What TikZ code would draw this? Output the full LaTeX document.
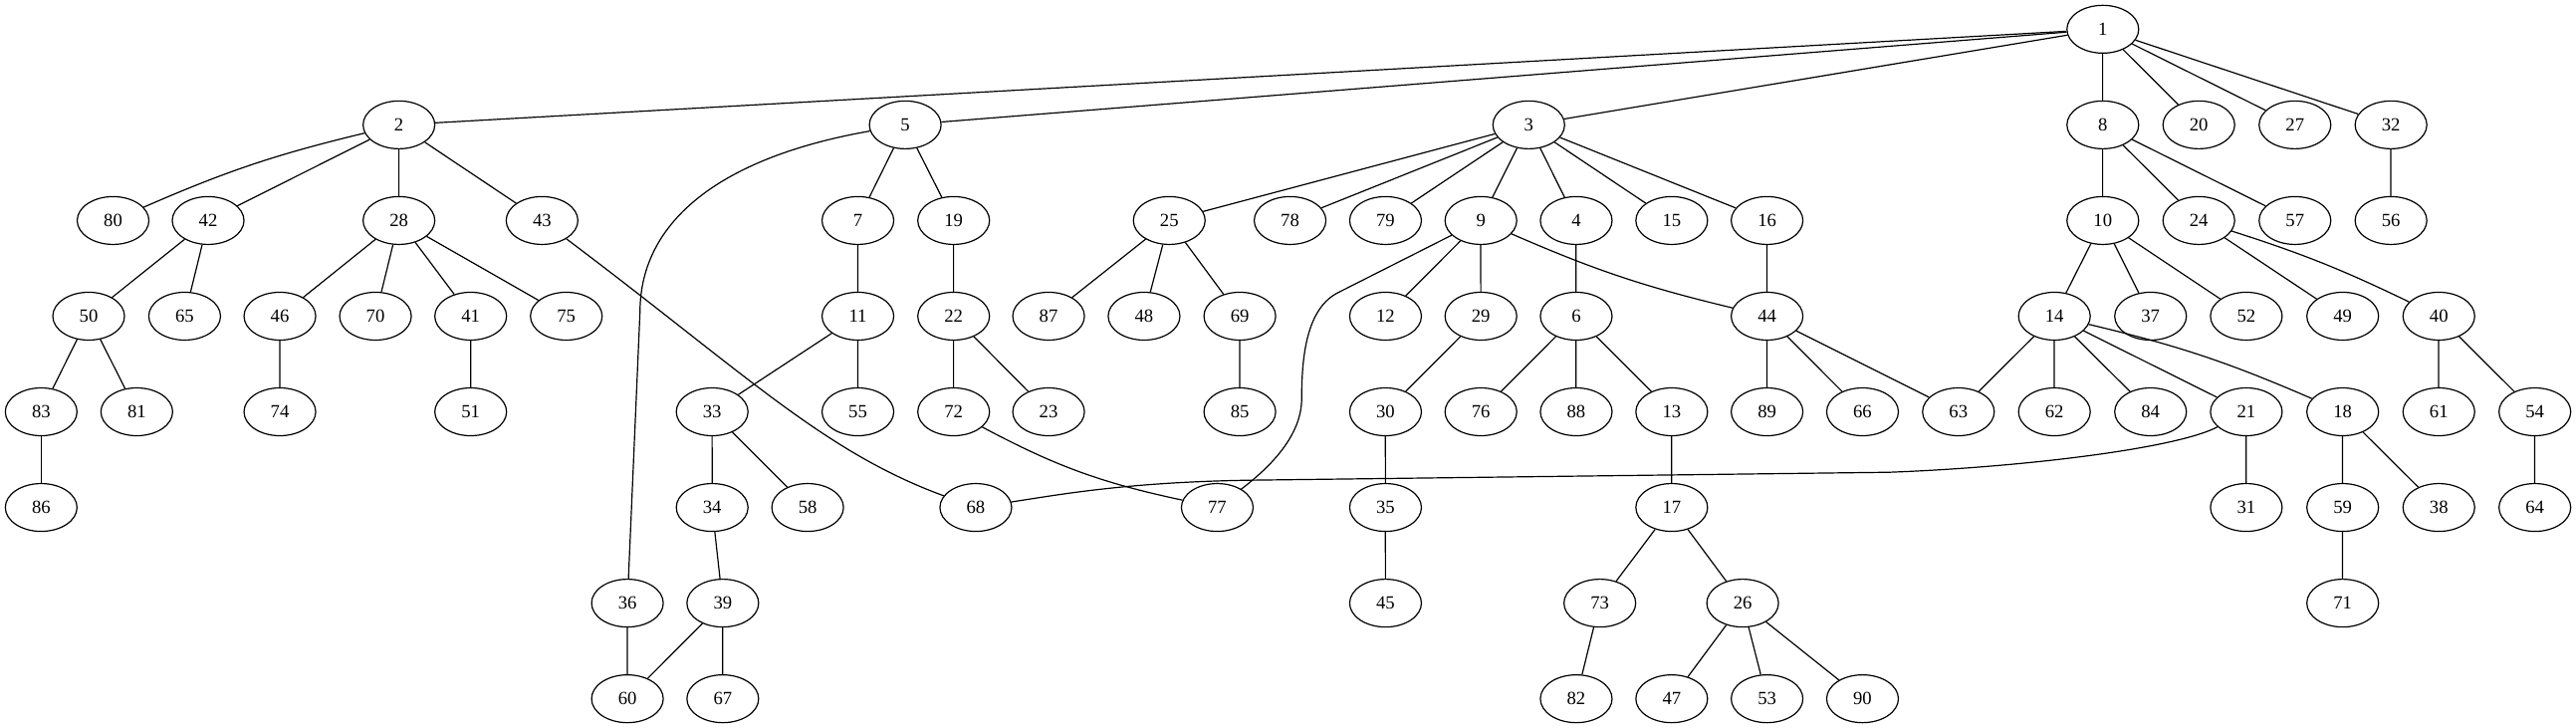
\documentclass[tikz,border=0pt]{standalone}
\usepackage{fontspec}
\setmainfont{Liberation Serif}
\usetikzlibrary{shapes.geometric}
\tikzset{
  gnode/.style={ellipse, draw, line width=0.9pt, minimum width=54pt, minimum height=36pt, inner sep=0pt, font=\fontsize{14pt}{16pt}\selectfont},
  gedge/.style={draw, line width=0.9pt}
}
\begin{document}
\begin{tikzpicture}
\path[fill=white,use as bounding box] (0,0) rectangle (1939.4pt,-548pt);
\begin{scope}[xshift=0.65pt, xscale=0.99835]
% rank 0
\node[gnode] (n1) at (1585.1pt,-22pt) {1};
% rank 1
\node[gnode] (n2) at (300.2pt,-94pt) {2};
\node[gnode] (n5) at (682pt,-94pt) {5};
\node[gnode] (n3) at (1152.2pt,-94pt) {3};
\node[gnode] (n8) at (1585.1pt,-94pt) {8};
\node[gnode] (n20) at (1657.5pt,-94pt) {20};
\node[gnode] (n27) at (1730pt,-94pt) {27};
\node[gnode] (n32) at (1802.4pt,-94pt) {32};
% rank 2
\node[gnode] (n80) at (84.6pt,-166pt) {80};
\node[gnode] (n42) at (156.3pt,-166pt) {42};
\node[gnode] (n28) at (300.2pt,-166pt) {28};
\node[gnode] (n43) at (408.1pt,-166pt) {43};
\node[gnode] (n7) at (646.3pt,-166pt) {7};
\node[gnode] (n19) at (718.5pt,-166pt) {19};
\node[gnode] (n25) at (881.1pt,-166pt) {25};
\node[gnode] (n78) at (972.2pt,-166pt) {78};
\node[gnode] (n79) at (1044.2pt,-166pt) {79};
\node[gnode] (n9) at (1116.1pt,-166pt) {9};
\node[gnode] (n4) at (1188pt,-166pt) {4};
\node[gnode] (n15) at (1260pt,-166pt) {15};
\node[gnode] (n16) at (1331.9pt,-166pt) {16};
\node[gnode] (n10) at (1585.1pt,-166pt) {10};
\node[gnode] (n24) at (1657.5pt,-166pt) {24};
\node[gnode] (n57) at (1730pt,-166pt) {57};
\node[gnode] (n56) at (1802.4pt,-166pt) {56};
% rank 3
\node[gnode] (n50) at (66.2pt,-238pt) {50};
\node[gnode] (n65) at (138.6pt,-238pt) {65};
\node[gnode] (n46) at (210.4pt,-238pt) {46};
\node[gnode] (n70) at (282.5pt,-238pt) {70};
\node[gnode] (n41) at (354.3pt,-238pt) {41};
\node[gnode] (n75) at (426.4pt,-238pt) {75};
\node[gnode] (n11) at (646.3pt,-238pt) {11};
\node[gnode] (n22) at (718.5pt,-238pt) {22};
\node[gnode] (n87) at (790.1pt,-238pt) {87};
\node[gnode] (n48) at (862.1pt,-238pt) {48};
\node[gnode] (n69) at (934.3pt,-238pt) {69};
\node[gnode] (n12) at (1044.2pt,-238pt) {12};
\node[gnode] (n29) at (1116.1pt,-238pt) {29};
\node[gnode] (n6) at (1188pt,-238pt) {6};
\node[gnode] (n44) at (1331.9pt,-238pt) {44};
\node[gnode] (n14) at (1548.6pt,-238pt) {14};
\node[gnode] (n37) at (1621.1pt,-238pt) {37};
\node[gnode] (n52) at (1693.3pt,-238pt) {52};
\node[gnode] (n49) at (1766pt,-238pt) {49};
\node[gnode] (n40) at (1838.5pt,-238pt) {40};
% rank 4
\node[gnode] (n83) at (30.4pt,-310pt) {83};
\node[gnode] (n81) at (102.5pt,-310pt) {81};
\node[gnode] (n74) at (210.4pt,-310pt) {74};
\node[gnode] (n51) at (354.3pt,-310pt) {51};
\node[gnode] (n33) at (536.4pt,-310pt) {33};
\node[gnode] (n55) at (646.3pt,-310pt) {55};
\node[gnode] (n72) at (718.5pt,-310pt) {72};
\node[gnode] (n23) at (790.1pt,-310pt) {23};
\node[gnode] (n85) at (934.3pt,-310pt) {85};
\node[gnode] (n30) at (1044.2pt,-310pt) {30};
\node[gnode] (n76) at (1116.1pt,-310pt) {76};
\node[gnode] (n88) at (1188pt,-310pt) {88};
\node[gnode] (n13) at (1260pt,-310pt) {13};
\node[gnode] (n89) at (1331.9pt,-310pt) {89};
\node[gnode] (n66) at (1403.9pt,-310pt) {66};
\node[gnode] (n63) at (1476.2pt,-310pt) {63};
\node[gnode] (n62) at (1548.6pt,-310pt) {62};
\node[gnode] (n84) at (1621.1pt,-310pt) {84};
\node[gnode] (n21) at (1693.3pt,-310pt) {21};
\node[gnode] (n18) at (1766pt,-310pt) {18};
\node[gnode] (n61) at (1838.5pt,-310pt) {61};
\node[gnode] (n54) at (1910.9pt,-310pt) {54};
% rank 5
\node[gnode] (n86) at (30.4pt,-382pt) {86};
\node[gnode] (n34) at (536.4pt,-382pt) {34};
\node[gnode] (n58) at (608.4pt,-382pt) {58};
\node[gnode] (n68) at (735.2pt,-382pt) {68};
\node[gnode] (n77) at (917.3pt,-382pt) {77};
\node[gnode] (n35) at (1044.2pt,-382pt) {35};
\node[gnode] (n17) at (1260pt,-382pt) {17};
\node[gnode] (n31) at (1693.3pt,-382pt) {31};
\node[gnode] (n59) at (1766pt,-382pt) {59};
\node[gnode] (n38) at (1838.5pt,-382pt) {38};
\node[gnode] (n64) at (1910.9pt,-382pt) {64};
% rank 6
\node[gnode] (n36) at (472.5pt,-454pt) {36};
\node[gnode] (n39) at (544.4pt,-454pt) {39};
\node[gnode] (n45) at (1044.2pt,-454pt) {45};
\node[gnode] (n73) at (1205.8pt,-454pt) {73};
\node[gnode] (n26) at (1313.5pt,-454pt) {26};
\node[gnode] (n71) at (1766pt,-454pt) {71};
% rank 7
\node[gnode] (n60) at (472.5pt,-526pt) {60};
\node[gnode] (n67) at (544.4pt,-526pt) {67};
\node[gnode] (n82) at (1188pt,-526pt) {82};
\node[gnode] (n47) at (1260pt,-526pt) {47};
\node[gnode] (n53) at (1331.9pt,-526pt) {53};
\node[gnode] (n90) at (1403.9pt,-526pt) {90};

% waypoints of long edges
\coordinate (w5a) at (482pt,-235pt);
\coordinate (w9a) at (1009pt,-220pt);
\coordinate (w9b) at (981pt,-300pt);
\coordinate (w21a) at (1424pt,-355.5pt);
\coordinate (w21b) at (940pt,-361.5pt);

% edges
\path[gedge] (n1) -- (n2);
\path[gedge] (n1) -- (n5);
\path[gedge] (n1) -- (n3);
\path[gedge] (n1) -- (n8);
\path[gedge] (n1) -- (n20);
\path[gedge] (n1) -- (n27);
\path[gedge] (n1) -- (n32);
\path[gedge] (n2) to[bend right=5] (n80);
\path[gedge] (n2) -- (n42);
\path[gedge] (n2) -- (n28);
\path[gedge] (n2) -- (n43);
\path[gedge] (n42) -- (n50);
\path[gedge] (n42) -- (n65);
\path[gedge] (n50) -- (n83);
\path[gedge] (n50) -- (n81);
\path[gedge] (n83) -- (n86);
\path[gedge] (n28) -- (n46);
\path[gedge] (n28) -- (n70);
\path[gedge] (n28) -- (n41);
\path[gedge] (n28) -- (n75);
\path[gedge] (n46) -- (n74);
\path[gedge] (n41) -- (n51);
\path[gedge] (n43) .. controls (560pt,-280pt) and (620pt,-340pt) .. (n68);
\path[gedge] (n5) .. controls (545pt,-118pt) and (482pt,-165pt) .. (w5a) -- (n36);
\path[gedge] (n5) -- (n7);
\path[gedge] (n5) -- (n19);
\path[gedge] (n7) -- (n11);
\path[gedge] (n11) -- (n33);
\path[gedge] (n11) -- (n55);
\path[gedge] (n33) -- (n34);
\path[gedge] (n33) -- (n58);
\path[gedge] (n34) -- (n39);
\path[gedge] (n39) -- (n60);
\path[gedge] (n39) -- (n67);
\path[gedge] (n36) -- (n60);
\path[gedge] (n19) -- (n22);
\path[gedge] (n22) -- (n72);
\path[gedge] (n22) -- (n23);
\path[gedge] (n72) to[bend right=8] (n77);
\path[gedge] (n3) -- (n25);
\path[gedge] (n3) -- (n78);
\path[gedge] (n3) -- (n79);
\path[gedge] (n3) -- (n9);
\path[gedge] (n3) -- (n4);
\path[gedge] (n3) -- (n15);
\path[gedge] (n3) -- (n16);
\path[gedge] (n25) -- (n87);
\path[gedge] (n25) -- (n48);
\path[gedge] (n25) -- (n69);
\path[gedge] (n69) -- (n85);
\path[gedge] (n9) -- (w9a) .. controls (984pt,-232pt) and (981pt,-270pt) .. (w9b) .. controls (981pt,-325pt) and (962pt,-348pt) .. (n77);
\path[gedge] (n9) -- (n12);
\path[gedge] (n9) -- (n29);
\path[gedge] (n9) to[bend right=5] (n44);
\path[gedge] (n29) -- (n30);
\path[gedge] (n30) -- (n35);
\path[gedge] (n35) -- (n45);
\path[gedge] (n4) -- (n6);
\path[gedge] (n6) -- (n76);
\path[gedge] (n6) -- (n88);
\path[gedge] (n6) -- (n13);
\path[gedge] (n13) -- (n17);
\path[gedge] (n17) -- (n73);
\path[gedge] (n17) -- (n26);
\path[gedge] (n73) -- (n82);
\path[gedge] (n26) -- (n47);
\path[gedge] (n26) -- (n53);
\path[gedge] (n26) -- (n90);
\path[gedge] (n16) -- (n44);
\path[gedge] (n44) -- (n89);
\path[gedge] (n44) -- (n66);
\path[gedge] (n44) -- (n63);
\path[gedge] (n8) -- (n10);
\path[gedge] (n8) -- (n24);
\path[gedge] (n8) -- (n57);
\path[gedge] (n32) -- (n56);
\path[gedge] (n10) -- (n14);
\path[gedge] (n10) -- (n37);
\path[gedge] (n10) -- (n52);
\path[gedge] (n24) -- (n49);
\path[gedge] (n24) to[bend left=4] (n40);
\path[gedge] (n40) -- (n61);
\path[gedge] (n40) -- (n54);
\path[gedge] (n54) -- (n64);
\path[gedge] (n14) -- (n63);
\path[gedge] (n14) -- (n62);
\path[gedge] (n14) -- (n84);
\path[gedge] (n14) -- (n21);
\path[gedge] (n14) to[bend left=5] (n18);
\path[gedge] (n21) .. controls (1640pt,-338pt) and (1520pt,-352pt) .. (w21a) -- (w21b) .. controls (850pt,-363pt) and (800pt,-372pt) .. (n68);
\path[gedge] (n21) -- (n31);
\path[gedge] (n18) -- (n59);
\path[gedge] (n18) -- (n38);
\path[gedge] (n59) -- (n71);
\end{scope}
\end{tikzpicture}
\end{document}
